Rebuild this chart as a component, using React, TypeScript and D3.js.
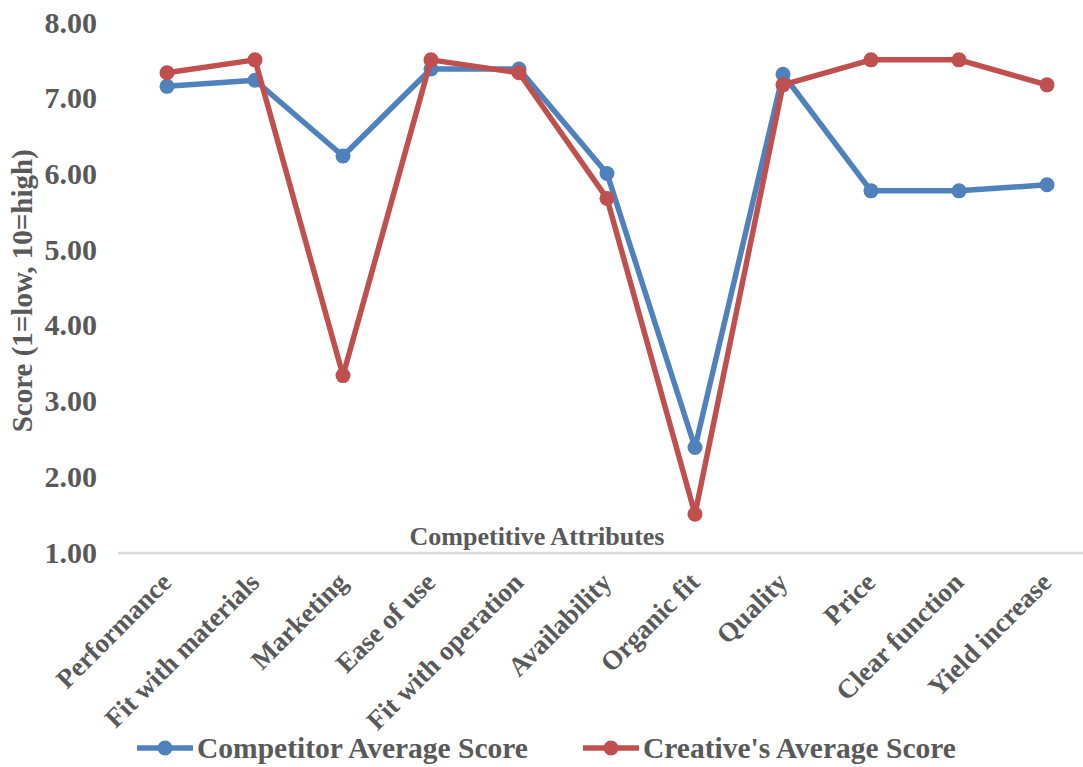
import React from "react";
import * as d3 from "d3";

const categories = [
  "Performance",
  "Fit with materials",
  "Marketing",
  "Ease of use",
  "Fit with operation",
  "Availability",
  "Organic fit",
  "Quality",
  "Price",
  "Clear function",
  "Yield increase",
];

const competitorScores = [7.15, 7.23, 6.23, 7.38, 7.38, 6.0, 2.38, 7.31, 5.77, 5.77, 5.85];
const creativeScores = [7.33, 7.5, 3.33, 7.5, 7.33, 5.67, 1.5, 7.17, 7.5, 7.5, 7.17];

const yTicks = [1, 2, 3, 4, 5, 6, 7, 8];

const seriesList = [
  { name: "Competitor Average Score", values: competitorScores, color: "#4f81bd" },
  { name: "Creative's Average Score", values: creativeScores, color: "#c0504d" },
];

const W = 1083;
const H = 767;
const FONT = "'Liberation Serif', 'Times New Roman', serif";
const TEXT = "#595959";

export default function App() {
  const x = d3.scalePoint<string>().domain(categories).range([167, 1047]);
  const y = d3.scaleLinear().domain([1, 8]).range([552, 22]);

  const line = d3
    .line<number>()
    .x((_, i) => x(categories[i]) as number)
    .y((d) => y(d));

  const legendItems = [
    { ...seriesList[0], x0: 137 },
    { ...seriesList[1], x0: 583 },
  ];

  return (
    <svg
      width={W}
      height={H}
      style={{ position: "absolute", left: 0, top: 0, background: "#fff" }}
      fontFamily={FONT}
      fontWeight="bold"
    >
      {/* y tick labels */}
      {yTicks.map((t) => (
        <text
          key={t}
          x={97}
          y={y(t)}
          textAnchor="end"
          dominantBaseline="central"
          fontSize={30}
          fill={TEXT}
        >
          {t.toFixed(2)}
        </text>
      ))}

      {/* y axis title */}
      <text
        transform={`translate(32, ${y(4.45)}) rotate(-90)`}
        textAnchor="middle"
        fontSize={29}
        fill={TEXT}
      >
        Score (1=low, 10=high)
      </text>

      {/* category axis line */}
      <line x1={118} x2={W} y1={y(1) + 1} y2={y(1) + 1} stroke="#d9d9d9" strokeWidth={2.5} />

      {/* x axis title */}
      <text x={537} y={545} textAnchor="middle" fontSize={26} fill={TEXT}>
        Competitive Attributes
      </text>

      {/* category labels */}
      {categories.map((c) => (
        <text
          key={c}
          transform={`translate(${(x(c) as number) + 6}, 584) rotate(-45)`}
          textAnchor="end"
          fontSize={27}
          fill={TEXT}
        >
          {c}
        </text>
      ))}

      {/* series */}
      {seriesList.map((s) => (
        <g key={s.name}>
          <path d={line(s.values) as string} fill="none" stroke={s.color} strokeWidth={5.5} strokeLinejoin="round" />
          {s.values.map((v, i) => (
            <circle key={i} cx={x(categories[i]) as number} cy={y(v)} r={7.5} fill={s.color} />
          ))}
        </g>
      ))}

      {/* legend */}
      {legendItems.map((l) => (
        <g key={l.name}>
          <line x1={l.x0} x2={l.x0 + 56} y1={748} y2={748} stroke={l.color} strokeWidth={5.5} />
          <circle cx={l.x0 + 28} cy={748} r={7.5} fill={l.color} />
          <text x={l.x0 + 60} y={758} fontSize={29.5} fill={TEXT}>
            {l.name}
          </text>
        </g>
      ))}
    </svg>
  );
}
